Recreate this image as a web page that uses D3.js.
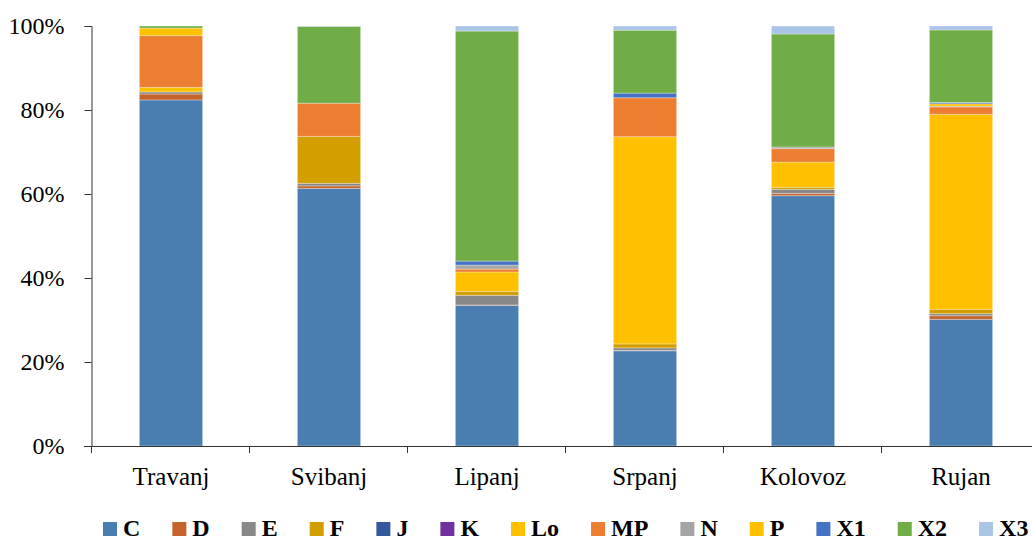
<!DOCTYPE html>
<html><head><meta charset="utf-8">
<script src="https://cdn.jsdelivr.net/npm/d3@7"></script>
<style>body{margin:0;background:#fff}svg{display:block}
svg text{font-family:"Liberation Serif","Times New Roman","DejaVu Serif",serif !important;}</style>
</head><body>
<svg id="c" width="1032" height="541"></svg>
<script>
const categories = ["Travanj","Svibanj","Lipanj","Srpanj","Kolovoz","Rujan"];
const seriesNames = ["C","D","E","F","J","K","Lo","MP","N","P","X1","X2","X3"];
const C  = [82.4, 61.4, 33.5, 22.7, 59.6, 30.2];
const D  = [1.4, 0.6, 0.1, 0.1, 0.55, 0.87];
const E  = [0.5, 0.6, 2.3, 0.6, 0.95, 0.5];
const F  = [0, 11.2, 0.95, 0.95, 0.5, 1.05];
const J  = [0, 0, 0, 0, 0, 0];
const K  = [0, 0, 0, 0, 0, 0];
const Lo = [1.1, 0, 4.6, 49.4, 6.0, 46.5];
const MP = [12.3, 7.9, 0.7, 9.3, 3.2, 1.75];
const N  = [0, 0, 0.95, 0, 0.4, 0.2];
const P  = [1.8, 0, 0, 0, 0, 0.55];
const X1 = [0, 0, 0.95, 1.1, 0, 0.3];
const X2 = [0.5, 18.3, 54.8, 15.0, 26.9, 17.3];
const X3 = [0, 0.1, 1.2, 1.0, 1.9, 0.95];
const yTicks = [0, 0.2, 0.4, 0.6, 0.8, 1.0];

const seriesValues = {C,D,E,F,J,K,Lo,MP,N,P,X1,X2,X3};
const colors = {C:"#4A7EB0",D:"#C4642B",E:"#888888",F:"#D29E00",J:"#34589C",K:"#7030A0",
  Lo:"#FFC000",MP:"#ED7D31",N:"#A5A5A5",P:"#FFC000",X1:"#4472C4",X2:"#70AD47",X3:"#ABC5E6"};

const rows = categories.map((c,i)=>{const r={cat:c}; seriesNames.forEach(s=>r[s]=seriesValues[s][i]); return r;});
const stack = d3.stack().keys(seriesNames).offset(d3.stackOffsetExpand)(rows);

const FONT = "'Liberation Serif','Times New Roman','DejaVu Serif',serif";
const svg = d3.select("#c");
const pLeft = 92, pRight = 1040, pTop = 26, pBottom = 446;
const x = d3.scaleBand().domain(categories).range([pLeft,pRight]).paddingInner(0.6).paddingOuter(0.3);
const y = d3.scaleLinear().domain([0,1]).range([pBottom, pTop]);

svg.append("g").selectAll("g").data(stack).join("g")
  .attr("fill", d=>colors[d.key])
  .selectAll("rect").data(d=>d).join("rect")
  .attr("x", d=>x(d.data.cat)).attr("width", x.bandwidth())
  .attr("y", d=>y(d[1])).attr("height", d=>Math.max(0, y(d[0])-y(d[1])))
  .attr("stroke","#fff").attr("stroke-opacity",0.3).attr("stroke-width",1);

// y axis
const ya = svg.append("g").attr("transform",`translate(${pLeft-0.5},0)`)
  .call(d3.axisLeft(y).tickValues(yTicks).tickFormat(d3.format(".0%")).tickSize(7).tickPadding(20));
ya.attr("font-family", FONT);
ya.select(".domain").attr("stroke","#333");
ya.selectAll(".tick line").attr("stroke","#333");
ya.selectAll("text").style("font-family",FONT).attr("font-size",24).attr("fill","#000");

// x axis
const xa = svg.append("g").attr("transform",`translate(0,${pBottom+0.5})`)
  .call(d3.axisBottom(x).tickSize(0).tickPadding(21));
xa.attr("font-family", FONT);
xa.select(".domain").remove();
xa.selectAll("text").style("font-family",FONT).attr("font-size",25).attr("fill","#000");
svg.append("line").attr("x1",pLeft-8).attr("x2",1032).attr("y1",pBottom+0.5).attr("y2",pBottom+0.5).attr("stroke","#333");
const bounds = d3.range(categories.length+1).map(i=>pLeft + i*x.step());
svg.append("g").selectAll("line").data(bounds).join("line")
  .attr("x1",d=>Math.round(d)-0.5).attr("x2",d=>Math.round(d)-0.5)
  .attr("y1",pBottom).attr("y2",pBottom+7).attr("stroke","#333");

// legend
const lg = svg.append("g");
const items = lg.selectAll("g").data(seriesNames).join("g");
items.append("rect").attr("width",14).attr("height",14).attr("y",-14).attr("fill",d=>colors[d]);
items.append("text").attr("x",20).attr("y",0).text(d=>d)
  .style("font-family",FONT).attr("font-weight","bold").attr("font-size",24).attr("fill","#000");
let cx = 0;
items.each(function(){ const g=d3.select(this); g.attr("transform",`translate(${cx},0)`); cx += 20 + g.select("text").node().getComputedTextLength() + 32; });
const totalW = cx - 32;
lg.attr("transform",`translate(${Math.round(566 - totalW/2)},536)`);
</script>
</body></html>
